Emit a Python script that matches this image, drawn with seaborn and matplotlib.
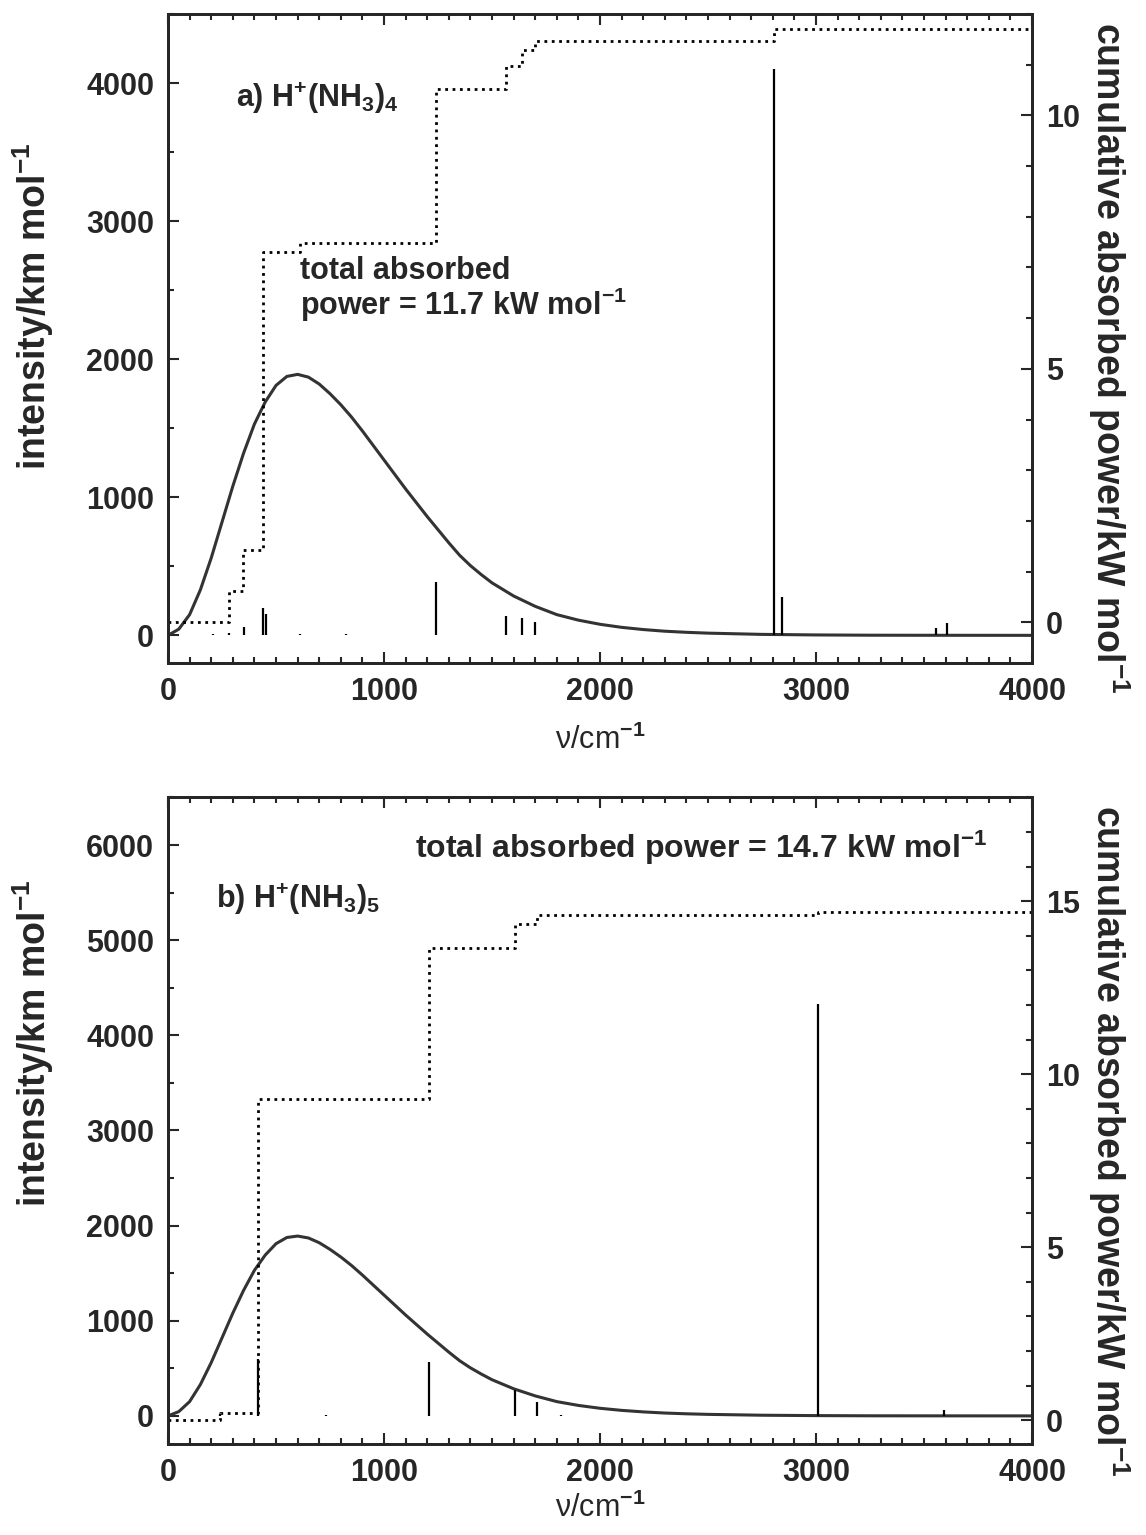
import matplotlib.pyplot as plt
import seaborn as sns
from matplotlib.ticker import MultipleLocator

# source curve (same in both panels), intensity scale
curve_nu = [0, 50, 100, 150, 200, 250, 300, 350, 400, 450, 500, 550, 600, 650,
            700, 750, 800, 850, 900, 950, 1000, 1050, 1100, 1150, 1200, 1250,
            1300, 1350, 1400, 1450, 1500, 1600, 1700, 1800, 1900, 2000, 2100,
            2200, 2300, 2400, 2500, 2750, 3000, 3250, 3500, 4000]
curve_int = [0, 45, 150, 330, 560, 820, 1080, 1320, 1530, 1690, 1810, 1875,
             1890, 1870, 1820, 1750, 1670, 1580, 1480, 1375, 1270, 1165, 1060,
             960, 860, 765, 670, 580, 505, 440, 380, 285, 210, 150, 110, 80,
             58, 42, 30, 22, 16, 7, 3, 1, 0.5, 0]

# a) H+(NH3)4
a_stick_nu = [60, 90, 208, 282, 352, 441, 454, 611, 824, 1241, 1565, 1639,
              1699, 1815, 2805, 2840, 3520, 3553, 3606]
a_stick_int = [5, 5, 8, 20, 58, 196, 152, 8, 8, 389, 143, 128, 96, 6, 4100,
               280, 6, 56, 92]
a_step_nu = [0, 282, 347, 440, 611, 1241, 1565, 1640, 1700, 2805, 4000]
a_step_kw = [0, 0.62, 1.42, 7.30, 7.48, 10.53, 10.97, 11.28, 11.47, 11.7, 11.7]

# b) H+(NH3)5
b_stick_nu = [240, 415, 730, 1210, 1606, 1708, 1820, 3010, 3590]
b_stick_int = [25, 600, 8, 570, 270, 150, 8, 4330, 60]
b_step_nu = [0, 240, 415, 1210, 1606, 1708, 3010, 4000]
b_step_kw = [0, 0.2, 9.29, 13.64, 14.33, 14.6, 14.7, 14.7]

sns.set_style("ticks")
plt.rcParams["font.family"] = ["Liberation Sans", "DejaVu Sans"]
plt.rcParams["font.weight"] = "bold"
plt.rcParams["axes.labelweight"] = "bold"
plt.rcParams["mathtext.fontset"] = "custom"
plt.rcParams["mathtext.rm"] = "Liberation Sans:bold"
plt.rcParams["mathtext.it"] = "Liberation Sans:bold"
plt.rcParams["mathtext.bf"] = "Liberation Sans:bold"

fig = plt.figure(figsize=(11.46, 15.35), dpi=100)
ax_a = fig.add_axes([0.1466, 0.5681, 0.754, 0.4228])
ax_b = fig.add_axes([0.1466, 0.0590, 0.754, 0.4215])


def panel(ax, stick_nu, stick_int, step_nu, step_kw, ylim, rlim, ylab_y,
          xlab_y):
    sns.lineplot(x=curve_nu, y=curve_int, ax=ax, color="#333333", lw=2.2,
                 legend=False)
    ax.vlines(stick_nu, 0, stick_int, color="black", lw=1.6)
    ax.set_xlim(0, 4000)
    ax.set_ylim(*ylim)
    ax.xaxis.set_major_locator(MultipleLocator(1000))
    ax.xaxis.set_minor_locator(MultipleLocator(100))
    ax.yaxis.set_major_locator(MultipleLocator(1000))
    ax.yaxis.set_minor_locator(MultipleLocator(500))
    ax.tick_params(which="both", direction="in", top=True, right=False,
                   width=1.5, labelsize=22, pad=10)
    ax.tick_params(which="major", length=8)
    ax.tick_params(which="minor", length=4)
    ax.set_xlabel("ν/cm$^{-1}$", fontsize=22, fontweight="normal")
    ax.xaxis.set_label_coords(0.5, xlab_y)
    ax.set_ylabel("intensity/km mol$^{-1}$", fontsize=27)
    ax.yaxis.set_label_coords(-0.13, ylab_y)

    ax2 = ax.twinx()
    sns.lineplot(x=step_nu, y=step_kw, ax=ax2, color="black", lw=2,
                 linestyle=":", drawstyle="steps-post", legend=False)
    ax2.set_ylim(*rlim)
    ax2.yaxis.set_major_locator(MultipleLocator(5))
    ax2.yaxis.set_minor_locator(MultipleLocator(1))
    ax2.tick_params(which="both", direction="in", width=1.5, labelsize=22,
                    pad=10)
    ax2.tick_params(which="major", length=8)
    ax2.tick_params(which="minor", length=4)
    ax2.set_ylabel("cumulative absorbed power/kW mol$^{-1}$", fontsize=27,
                   rotation=270)
    ax2.yaxis.set_label_coords(1.115, 0.47)
    for a in (ax, ax2):
        for s in a.spines.values():
            s.set_linewidth(2)
    return ax2


panel(ax_a, a_stick_nu, a_stick_int, a_step_nu, a_step_kw,
      (-200, 4500), (-0.8, 12), 0.55, -0.095)
panel(ax_b, b_stick_nu, b_stick_int, b_step_nu, b_step_kw,
      (-300, 6500), (-0.7, 18), 0.62, -0.075)

ax_a.text(315, 3890, "a) H$^{+}$(NH$_3$)$_4$", fontsize=22, va="center")
ax_a.text(610, 2750, "total absorbed\npower = 11.7 kW mol$^{-1}$",
          fontsize=22, va="top", linespacing=1.0)
ax_b.text(222, 5435, "b) H$^{+}$(NH$_3$)$_5$", fontsize=22, va="center")
ax_b.text(1143, 5970, "total absorbed power = 14.7 kW mol$^{-1}$",
          fontsize=23, va="center")

fig.savefig("out.png", dpi=100)
